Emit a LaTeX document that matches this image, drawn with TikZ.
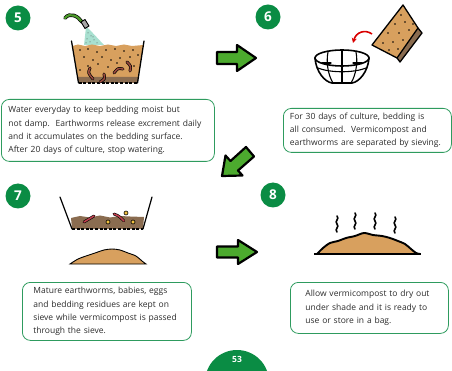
\documentclass[tikz,border=0pt]{standalone}
\usepackage{fontspec}
\setmainfont{Open Sans}
\usetikzlibrary{arrows.meta}
\definecolor{stepgreen}{HTML}{0A8C44}
\definecolor{boxgreen}{HTML}{2E9B5E}
\definecolor{arrowgreen}{HTML}{4CAA2E}
\definecolor{soil}{HTML}{D8A05E}
\definecolor{darksoil}{HTML}{8A6C50}
\definecolor{wormred}{HTML}{9A4A3E}
\definecolor{wormpink}{HTML}{C0404E}
\definecolor{spray}{HTML}{A8E0D0}
\definecolor{hosegreen}{HTML}{4C9A2A}
\definecolor{textgray}{HTML}{2B2B2B}
\definecolor{eggyellow}{HTML}{F0C040}
\begin{document}
\begin{tikzpicture}[x=1pt,y=-1pt,
  stepnum/.style={circle,fill=stepgreen,minimum size=25pt,inner sep=0pt,
    text=white,font=\fontsize{13.5}{13.5}\selectfont\bfseries},
  infobox/.style={draw=boxgreen,line width=0.8pt,rounded corners=8pt,
    anchor=north west,align=left,inner ysep=0pt,text=textgray,
    font=\fontsize{8.5}{13.2}\selectfont},
  blockarrow/.style={fill=arrowgreen,draw=black,line width=2.2pt,line join=round},
  ink/.style={draw=black,line width=1.3pt,line cap=round,line join=round}]
\useasboundingbox (0,0) rectangle (452,371);

% ---------- step 5: watering the bedding ----------
\node[stepnum] (n5) at (18,18) {5};
% spray of water
\fill[spray] (86,27) -- (89,29) -- (104,45) -- (84,45) -- cycle;
\foreach \p in {(88,33),(91,36),(87,39),(94,40),(90,42),(97,43),(86,43),(93,37)}
  \fill[black!70] \p circle (0.5);
% bedding soil
\fill[soil] plot coordinates {(72.5,46) (78,44.5) (85,46) (92,44.5) (100,46) (108,44.5) (116,46) (124,44.5) (132,46) (143.5,45)}
  -- (138,77) -- (78,77) -- cycle;
\fill[darksoil] (78,77) -- (138,77) -- (137.5,83) -- (78.5,83) -- cycle;
\draw[line width=1.8pt,dash pattern=on 3pt off 1.6pt] (78.5,83) -- (137.5,83);
\foreach \p in {(80,50),(88,49),(97,52),(106,50),(115,49),(124,51),(133,50),(84,57),(93,60),(102,57),
  (111,60),(120,58),(130,57),(138,55),(88,66),(98,64),(108,67),(117,63),(80,70),(104,74),(134,66)}
  \fill \p circle (0.9);
% worms
\foreach \a/\b/\c in {{(90,68)}/{(88,73)}/{(93,79)},{(100,82)}/{(105,79)}/{(104,74)},
  {(114,73)}/{(118,68)}/{(123,69)},{(127,62)}/{(131,66)}/{(130,71)}}{
  \draw[line width=2.9pt,line cap=round] \a .. controls \b .. \c;
  \draw[line width=1.6pt,line cap=round,wormred] \a .. controls \b .. \c;
}
% bucket walls
\draw[ink] (71.5,41) -- (78.5,83);
\draw[ink] (144,41) -- (137.5,83);
% hose and nozzle
\draw[line width=3.6pt,line cap=round] (65,18) .. controls (70,12) and (78,16) .. (82,22);
\draw[line width=2.2pt,line cap=round,hosegreen] (65,18) .. controls (70,12) and (78,16) .. (82,22);
\draw[ink,fill=black!35,line width=0.9pt] (81,22) -- (85,19.5) -- (89,26) -- (85,28.5) -- cycle;

% ---------- arrow 5 -> 6 ----------
\draw[blockarrow] (217,52) -- (237,52) -- (237,45) -- (256,58) -- (237,71) -- (237,64) -- (217,64) -- cycle;

% ---------- step 6: sieving ----------
\node[stepnum] (n6) at (268,17) {6};
% bedding slab tipped toward the sieve
\fill[darksoil] (418,28) -- (422,33) -- (400,62) -- (397,58) -- cycle;
\draw[ink,fill=soil] (372,45) -- (403,5) -- (418,28) -- (397,58) -- cycle;
\draw[ink] (418,28) -- (422,33) -- (400,62) -- (397,58);
\foreach \p in {(401,15),(395,24),(405,22),(388,33),(399,33),(409,30),(383,43),(393,42),(403,40),(389,50),(398,49),(413,24)}
  \fill \p circle (0.9);
% red arrow
\draw[red!85!black,line width=1.6pt,-{Stealth[length=5pt,width=5pt]}] (372,34) .. controls (365,29) and (356,32) .. (353,43);
% sieve bowl
\draw[ink,line width=1.6pt] (342,58) ellipse [x radius=27, y radius=8];
\draw[ink,line width=1.6pt] (315,58) .. controls (316,72) and (325,82) .. (332,83) -- (352,83) .. controls (359,82) and (368,72) .. (369,58);
\draw[ink,line width=1.1pt] (318,68) .. controls (330,73) and (354,73) .. (366,68);
\draw[ink,line width=1.1pt] (342,50) -- (342,83);
\draw[ink,line width=1.1pt] (328,52) .. controls (326,62) and (328,75) .. (333,83);
\draw[ink,line width=1.1pt] (356,52) .. controls (358,62) and (356,75) .. (351,83);
\draw[ink,line width=1.1pt] (322,63) -- (331,63);
\draw[ink,line width=1.1pt] (353,63) -- (362,63);

% ---------- arrow 6 -> 7 ----------
\draw[blockarrow] (246,147) -- (230.5,161) -- (225.5,155.5) -- (222,176) -- (242.5,175.5) -- (238,170.5) -- (254,156.5) -- cycle;

% ---------- step 7: sieve and passed vermicompost ----------
\node[stepnum] (n7) at (18,196) {7};
\fill[darksoil] plot coordinates {(71,218) (80,216) (90,217.5) (100,215.5) (110,217.5) (120,216) (130,216.5) (144,217)}
  -- (143,229) -- (72,229) -- cycle;
\draw[line width=1.6pt,dash pattern=on 3pt off 1.6pt] (72,229) -- (143,229);
\draw[ink,line width=1.2pt] (60,197) -- (72,229);
\draw[ink,line width=1.2pt] (152,197) -- (143,229);
\foreach \a/\b/\c in {{(84,222)}/{(89,219)}/{(94,216)},{(114,214)}/{(119,216)}/{(124,221)}}{
  \draw[line width=2.8pt,line cap=round] \a .. controls \b .. \c;
  \draw[line width=1.6pt,line cap=round,wormpink] \a .. controls \b .. \c;
}
\foreach \p in {(108,222),(126,213),(133,222)}
  \draw[fill=eggyellow,line width=0.6pt] \p circle (2);
\draw[fill=soil,line width=0.9pt] plot[smooth] coordinates {(70,264) (78,259) (86,256) (95,253) (104,250) (112,249) (120,250) (128,253) (136,256) (142,261) (146,264)} -- cycle;

% ---------- arrow 7 -> 8 ----------
\draw[blockarrow] (217,246.5) -- (238,246.5) -- (238,240) -- (257,252) -- (238,264) -- (238,257.5) -- (217,257.5) -- cycle;

% ---------- step 8: drying ----------
\node[stepnum] (n8) at (273,195) {8};
\draw[fill=soil,line width=1.9pt,line join=round] plot[smooth] coordinates {(317,254) (323,248) (330,243) (338,241) (346,238) (355,236) (364,233) (373,235) (382,236) (390,238) (398,241) (405,244) (411,249) (416,253) (420,254)} -- cycle;
\draw[line width=1.9pt] (314,254) -- (421,254);
\foreach \x/\y in {337/216,355/213,375/213,395/217}{
  \draw[line width=1.6pt,line cap=round] (\x,\y+16) .. controls (\x-3,\y+13) and (\x+3,\y+11) .. (\x,\y+8)
    .. controls (\x-3,\y+5) and (\x+3,\y+3) .. (\x,\y);
}

% ---------- captions ----------
\node[infobox,text width=199pt,inner xsep=7pt,minimum height=62pt] (t5) at (1,99)
  {Water everyday to keep bedding moist but\\not damp.\ \ Earthworms release excrement daily\\and it accumulates on the bedding surface.\\After 20 days of culture, stop watering.};
\node[infobox,text width=155pt,inner xsep=6.5pt,minimum height=44pt] (t6) at (283,108)
  {For 30 days of culture, bedding is\\all consumed.\ \ Vermicompost and\\earthworms are separated by sieving.};
\node[infobox,text width=147pt,inner xsep=11pt,minimum height=58pt] (t7) at (22,282)
  {Mature earthworms, babies, eggs\\and bedding residues are kept on\\sieve while vermicompost is passed\\through the sieve.};
\node[infobox,text width=128pt,inner xsep=15pt,minimum height=51pt] (t8) at (290,282)
  {Allow vermicompost to dry out\\under shade and it is ready to\\use or store in a bag.};

% ---------- page number ----------
\begin{scope}
  \clip (0,0) rectangle (452,371);
  \node[circle,fill=stepgreen,minimum size=64pt,inner sep=0pt] (pg) at (237,382) {};
  \node[text=white,font=\fontsize{8.5}{8.5}\selectfont\bfseries] (pgnum) at (237,359) {53};
\end{scope}
\end{tikzpicture}
\end{document}
